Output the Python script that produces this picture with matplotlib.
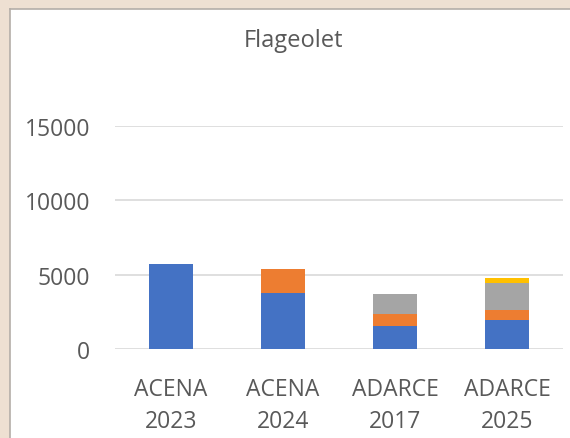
import matplotlib
matplotlib.use("Agg")
import matplotlib.pyplot as plt
from matplotlib.patches import Rectangle
import numpy as np

# Flageolet stacked totals per programme/year
categories = ["ACENA\n2023", "ACENA\n2024", "ADARCE\n2017", "ADARCE\n2025"]
series_blue = [5730, 3750, 1580, 1980]
series_orange = [0, 1650, 800, 670]
series_gray = [0, 0, 1300, 1810]
series_yellow = [0, 0, 0, 340]
y_ticks = [0, 5000, 10000, 15000]

colors = ["#4472C4", "#ED7D31", "#A5A5A5", "#FFC000"]
text_color = "#595959"
grid_color = "#D9D9D9"

plt.rcParams["font.family"] = ["Open Sans", "DejaVu Sans"]

W, H = 570, 439
fig = plt.figure(figsize=(W / 100, H / 100), dpi=100)
fig.patch.set_facecolor("#EEE0D2")

# white chart panel with a thin grey border on the left and top
panel = Rectangle((10 / W, 0), 1 - 10 / W, 1 - 10 / H, transform=fig.transFigure,
                  facecolor="white", edgecolor="none", zorder=-10)
fig.add_artist(panel)
fig.add_artist(plt.Line2D([9.5 / W, 9.5 / W], [0, 1 - 9.5 / H], transform=fig.transFigure,
                          color="#B4AEA8", lw=1.2, zorder=-5))
fig.add_artist(plt.Line2D([9.5 / W, 1], [1 - 9.5 / H, 1 - 9.5 / H], transform=fig.transFigure,
                          color="#B4AEA8", lw=1.2, zorder=-5))

ax = fig.add_axes([115 / W, 1 - 350 / H, (563 - 115) / W, (350 - 127) / H])
ax.set_zorder(5)
ax.set_facecolor("none")

x = np.arange(len(categories))
width = 0.40
bottom = np.zeros(len(categories))
for vals, c in zip([series_blue, series_orange, series_gray, series_yellow], colors):
    v = np.array(vals, dtype=float)
    ax.bar(x, v, width, bottom=bottom, color=c, edgecolor="none", zorder=3)
    bottom += v

ax.set_xlim(-0.5, len(categories) - 0.5)
ax.set_ylim(0, 15000)
ax.set_yticks(y_ticks)
ax.set_yticklabels([str(t) for t in y_ticks])
ax.yaxis.grid(True, color=grid_color, lw=1.2, zorder=0)
ax.set_axisbelow(True)
for s in ax.spines.values():
    s.set_visible(False)
ax.tick_params(axis="y", length=0, pad=18, labelsize=16.5, labelcolor=text_color)
ax.set_xticks(x)
ax.set_xticklabels(categories, linespacing=1.48)
ax.tick_params(axis="x", length=0, pad=20, labelsize=16.5, labelcolor=text_color)
for lbl in ax.get_yticklabels() + ax.get_xticklabels():
    lbl.set_clip_on(False)

fig.text(294 / W, 1 - 47 / H, "Flageolet", ha="center", va="baseline",
         fontsize=17, color=text_color)

fig.savefig("out.png", dpi=100, facecolor=fig.get_facecolor())
